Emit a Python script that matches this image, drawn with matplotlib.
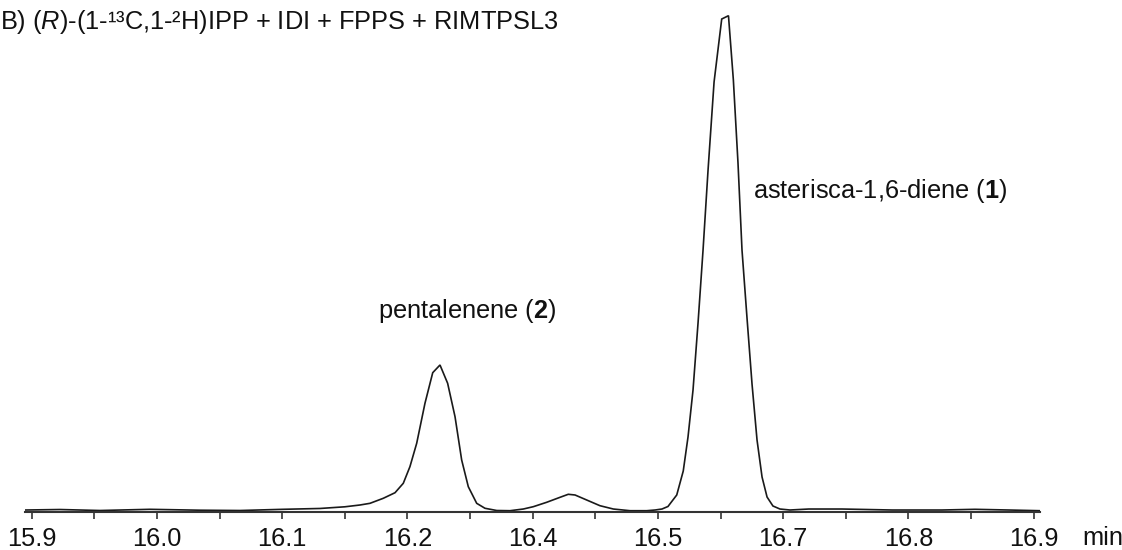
import matplotlib
matplotlib.use("Agg")
import matplotlib.pyplot as plt

plt.rcParams["font.family"] = ["Liberation Sans", "DejaVu Sans"]
plt.rcParams["mathtext.fontset"] = "custom"
plt.rcParams["mathtext.rm"] = "Liberation Sans"
plt.rcParams["mathtext.it"] = "Liberation Sans:italic"
plt.rcParams["mathtext.bf"] = "Liberation Sans:bold"

# Retention time (min) and detector response (relative, largest peak = 100)
time_min = [
    15.8947, 15.9226, 15.9545, 15.9944, 16.0344, 16.0663, 16.1006, 16.1302,
    16.1501, 16.1621, 16.1701, 16.1807, 16.1901, 16.1967, 16.2020, 16.2074,
    16.2140, 16.2202, 16.2260, 16.2321, 16.2380, 16.2433, 16.2486, 16.2553,
    16.2619, 16.2713, 16.2819, 16.2925, 16.3005, 16.3112, 16.3218, 16.3284,
    16.3338, 16.3431, 16.3537, 16.3644, 16.3777, 16.3910, 16.3977, 16.4032,
    16.4080, 16.4150, 16.4202, 16.4240, 16.4280, 16.4320, 16.4360, 16.4400,
    16.4448, 16.4509, 16.4563, 16.4602, 16.4639, 16.4671, 16.4711, 16.4751,
    16.4791, 16.4831, 16.4871, 16.4918, 16.4974, 16.5054, 16.5204, 16.5469,
    16.5869, 16.6268, 16.6531, 16.6800, 16.7050,
]
intensity = [
    0.30, 0.40, 0.20, 0.44, 0.26, 0.20, 0.44, 0.61,
    0.95, 1.31, 1.65, 2.66, 3.79, 5.69, 9.04, 13.76,
    21.82, 28.00, 29.55, 25.86, 19.12, 10.39, 5.00, 1.65,
    0.65, 0.20, 0.16, 0.50, 0.97, 1.86, 2.86, 3.47,
    3.33, 2.32, 1.17, 0.50, 0.16, 0.16, 0.30, 0.50,
    1.01, 3.33, 8.17, 15.03, 24.51, 38.02, 52.74, 68.88,
    86.63, 99.33, 100.00, 87.05, 70.31, 52.74, 39.03, 25.72,
    14.42, 6.96, 2.92, 1.11, 0.50, 0.30, 0.50, 0.50,
    0.30, 0.30, 0.44, 0.30, 0.16,
]

major_ticks = [15.9, 16.0, 16.1, 16.2, 16.3, 16.4, 16.5, 16.6, 16.7]
major_labels = ["15.9", "16.0", "16.1", "16.2", "16.4", "16.5", "16.7", "16.8", "16.9"]
minor_ticks = [15.95, 16.05, 16.15, 16.25, 16.35, 16.45, 16.55, 16.65]

title = r"B) ($\mathit{R}$)-(1-¹³C,1-²H)IPP + IDI + FPPS + RIMTPSL3"
# label text, left edge (min), baseline height (relative response)
peak_labels = [
    (r"pentalenene ($\mathbf{2}$)", 16.1765, 39.0),
    (r"asterisca-1,6-diene ($\mathbf{1}$)", 16.4759, 63.2),
]

FS = 18.3
W, H = 1122, 550
fig = plt.figure(figsize=(W / 100, H / 100), dpi=100)
ax_left, ax_right = 25, 1040
ax_bottom, ax_top = 511.5, 10
ax = fig.add_axes([ax_left / W, (H - ax_bottom) / H,
                   (ax_right - ax_left) / W, (ax_bottom - ax_top) / H])

ax.plot(time_min, intensity, color="#1a1a1a", lw=1.2, solid_joinstyle="miter")

ax.set_xlim(15.8947, 16.7050)
ax.set_ylim(0, 101.15)

for side in ("top", "right", "left"):
    ax.spines[side].set_visible(False)
ax.spines["bottom"].set_color("#333333")
ax.spines["bottom"].set_linewidth(1.5)
ax.set_yticks([])

ax.set_xticks(major_ticks)
ax.set_xticklabels(major_labels)
ax.set_xticks(minor_ticks, minor=True)
ax.tick_params(axis="x", which="both", direction="out", length=5, width=1.2,
               color="#333333")
ax.tick_params(axis="x", which="major", labelsize=FS, pad=6, labelcolor="#111111")

fig.text(1082 / W, 1 - 545 / H, "min", fontsize=FS, ha="left", va="baseline",
         color="#111111")
fig.text(0 / W, 1 - 29.3 / H, title, fontsize=FS, ha="left", va="baseline",
         color="#111111")

for text, x, y in peak_labels:
    ax.text(x, y, text, fontsize=FS, ha="left", va="baseline", color="#111111")

fig.savefig("out.png", dpi=100)
